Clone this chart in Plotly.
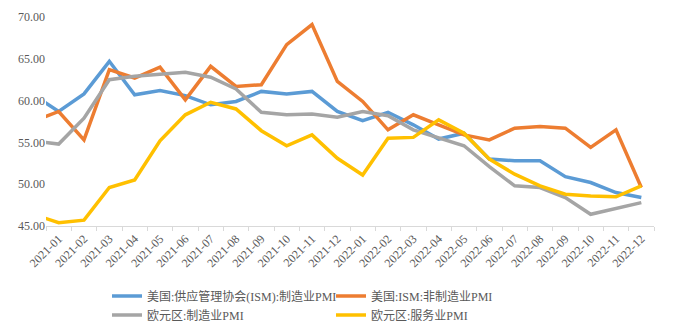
import plotly.graph_objects as go

months = ["2020-12"] + [f"2021-{m:02d}" for m in range(1, 13)] + [f"2022-{m:02d}" for m in range(1, 13)]

us_mfg = [60.7, 58.7, 60.8, 64.7, 60.7, 61.2, 60.6, 59.5, 59.9, 61.1, 60.8, 61.1, 58.7,
          57.6, 58.6, 57.1, 55.4, 56.1, 53.0, 52.8, 52.8, 50.9, 50.2, 49.0, 48.4]
us_svc = [57.5, 58.7, 55.3, 63.7, 62.7, 64.0, 60.1, 64.1, 61.7, 61.9, 66.7, 69.1, 62.3,
          59.9, 56.5, 58.3, 57.1, 55.9, 55.3, 56.7, 56.9, 56.7, 54.4, 56.5, 49.6]
ez_mfg = [55.2, 54.8, 57.9, 62.5, 62.9, 63.1, 63.4, 62.8, 61.4, 58.6, 58.3, 58.4, 58.0,
          58.7, 58.2, 56.5, 55.5, 54.6, 52.1, 49.8, 49.6, 48.4, 46.4, 47.1, 47.8]
ez_svc = [46.4, 45.4, 45.7, 49.6, 50.5, 55.2, 58.3, 59.8, 59.0, 56.4, 54.6, 55.9, 53.1,
          51.1, 55.5, 55.6, 57.7, 56.1, 53.0, 51.2, 49.8, 48.8, 48.6, 48.5, 49.8]

names = ["美国:供应管理协会(ISM):制造业PMI", "美国:ISM:非制造业PMI", "欧元区:制造业PMI", "欧元区:服务业PMI"]
colors = ["#5B9BD5", "#ED7D31", "#A5A5A5", "#FFC000"]
series = [us_mfg, us_svc, ez_mfg, ez_svc]
y_ticks = [45, 50, 55, 60, 65, 70]

font_family = "Liberation Serif, Noto Sans CJK SC"

fig = go.Figure()
for name, color, vals in zip(names, colors, series):
    fig.add_trace(go.Scatter(x=months, y=vals, name=name, mode="lines",
                             line=dict(color=color, width=3.5)))

fig.update_layout(
    width=673, height=334,
    margin=dict(l=46, r=19, t=17, b=108, autoexpand=False),
    paper_bgcolor="white", plot_bgcolor="white",
    font=dict(family=font_family, size=12, color="#595959"),
    showlegend=True,
    legend=dict(orientation="h", xref="container", yref="container",
                x=0.159, xanchor="left", y=0.157, yanchor="top",
                entrywidth=179, entrywidthmode="pixels",
                font=dict(family=font_family, size=12, color="#595959"),
                tracegroupgap=0, itemwidth=30),
)
fig.update_xaxes(type="category", categoryorder="array", categoryarray=months,
                 range=[0.5, len(months) - 0.5], tickson="boundaries",
                 showline=True, linecolor="#d9d9d9", linewidth=1,
                 ticks="outside", ticklen=4, tickcolor="#d9d9d9",
                 tickangle=-45, showgrid=False, zeroline=False, automargin=False,
                 tickfont=dict(family=font_family, size=12, color="#595959"))
fig.update_yaxes(range=[45, 70], tickvals=y_ticks, tickformat=".2f",
                 showgrid=False, zeroline=False, showline=False, ticks="",
                 automargin=False,
                 tickfont=dict(family=font_family, size=12, color="#595959"))

fig.write_html("out.html")
